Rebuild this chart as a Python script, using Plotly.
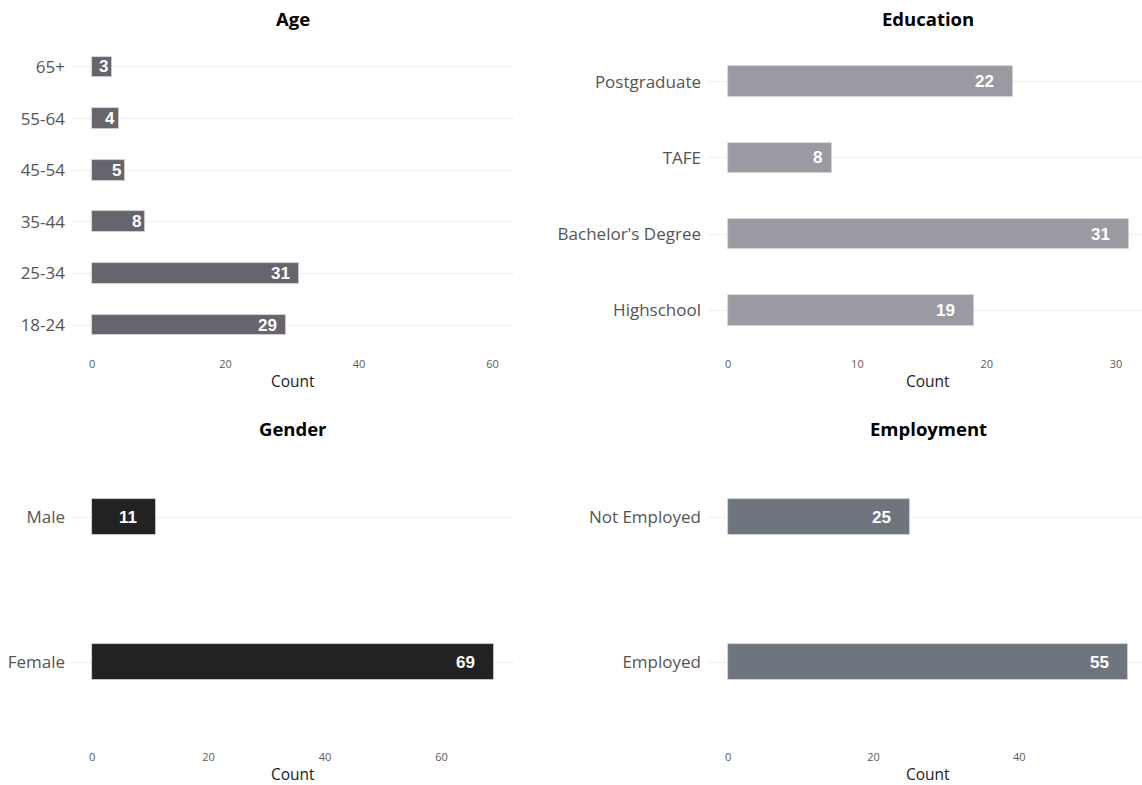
import plotly.graph_objects as go

# ---- data ----
age_cats = ["18-24", "25-34", "35-44", "45-54", "55-64", "65+"]
age_vals = [29, 31, 8, 5, 4, 3]

edu_cats = ["Highschool", "Bachelor's Degree", "TAFE", "Postgraduate"]
edu_vals = [19, 31, 8, 22]

gender_cats = ["Female", "Male"]
gender_vals = [69, 11]

emp_cats = ["Employed", "Not Employed"]
emp_vals = [55, 25]

W, H = 1142, 785

panels = [
    dict(title="Age", cats=age_cats, vals=age_vals, color="#66656e", width=0.4,
         xr=[-3.0, 63.2], xt=[0, 20, 40, 60], dom_x=[72, 514], dom_y=[36, 356],
         title_y=19, count_y=381, k=0.95),
    dict(title="Education", cats=edu_cats, vals=edu_vals, color="#9b9aa2", width=0.4,
         xr=[-1.55, 32.0], xt=[0, 10, 20, 30], dom_x=[708, 1142], dom_y=[36, 356],
         title_y=19, count_y=381, k=1.5, title_cx=928),
    dict(title="Gender", cats=gender_cats, vals=gender_vals, color="#222222", width=0.25,
         xr=[-3.45, 72.45], xt=[0, 20, 40, 60], dom_x=[72, 514], dom_y=[430, 749],
         title_y=428, count_y=774, k=1.5),
    dict(title="Employment", cats=emp_cats, vals=emp_vals, color="#6e757e", width=0.25,
         xr=[-2.75, 56.87], xt=[0, 20, 40], dom_x=[708, 1142], dom_y=[430, 749],
         title_y=428, count_y=774, k=1.5, title_cx=928),
]

fig = go.Figure()
annotations = []
layout = {}

for i, p in enumerate(panels, start=1):
    xa = "x" if i == 1 else f"x{i}"
    ya = "y" if i == 1 else f"y{i}"
    fig.add_trace(go.Bar(
        x=p["vals"], y=p["cats"], orientation="h", width=p["width"],
        marker=dict(color=p["color"], line=dict(color="#d9d9d9", width=0.8)),
        xaxis=xa, yaxis=ya, showlegend=False, hoverinfo="x+y",
    ))
    dx = [p["dom_x"][0] / W, p["dom_x"][1] / W]
    dy = [1 - p["dom_y"][1] / H, 1 - p["dom_y"][0] / H]
    n = len(p["cats"])
    layout[f"xaxis{'' if i == 1 else i}"] = dict(
        domain=dx, range=p["xr"], tickvals=p["xt"], showgrid=False, zeroline=False,
        showline=False, ticks="", anchor=ya,
        tickfont=dict(family="Open Sans", size=11, color="#5a5a5a"),
    )
    layout[f"yaxis{'' if i == 1 else i}"] = dict(
        domain=dy, type="category", categoryorder="array", categoryarray=p["cats"],
        range=[-0.6, n - 1 + 0.6], showgrid=True, gridcolor="#efefef", gridwidth=1,
        zeroline=False, showline=False, ticks="", anchor=xa, ticklabelstandoff=6,
        tickfont=dict(family="Open Sans", size=17, color="#555555"),
    )
    cx = p.get("title_cx", (p["dom_x"][0] + p["dom_x"][1]) / 2)
    annotations.append(dict(
        text=f"<b>{p['title']}</b>", x=cx / W, y=1 - p["title_y"] / H,
        xref="paper", yref="paper", xanchor="center", yanchor="middle", showarrow=False,
        font=dict(family="Open Sans", size=18.5, color="#000000"),
    ))
    annotations.append(dict(
        text="Count", x=cx / W, y=1 - p["count_y"] / H,
        xref="paper", yref="paper", xanchor="center", yanchor="middle", showarrow=False,
        font=dict(family="Open Sans", size=15.5, color="#222222"),
    ))
    for c, v in zip(p["cats"], p["vals"]):
        wpx = len(str(v)) * 9.5
        annotations.append(dict(
            text=f"<b>{v}</b>", x=v, y=c, xref=xa, yref=ya,
            xanchor="center", yanchor="middle", xshift=-p["k"] * wpx, showarrow=False,
            font=dict(family="Liberation Sans, Arial", size=17, color="#ffffff"),
        ))

fig.update_layout(
    width=W, height=H, margin=dict(l=0, r=0, t=0, b=0),
    paper_bgcolor="white", plot_bgcolor="white",
    annotations=annotations, bargap=0, **layout,
)

fig.write_html("out.html", config={"displayModeBar": False},
               post_script="document.body.style.margin='0';document.body.style.overflow='hidden';")
